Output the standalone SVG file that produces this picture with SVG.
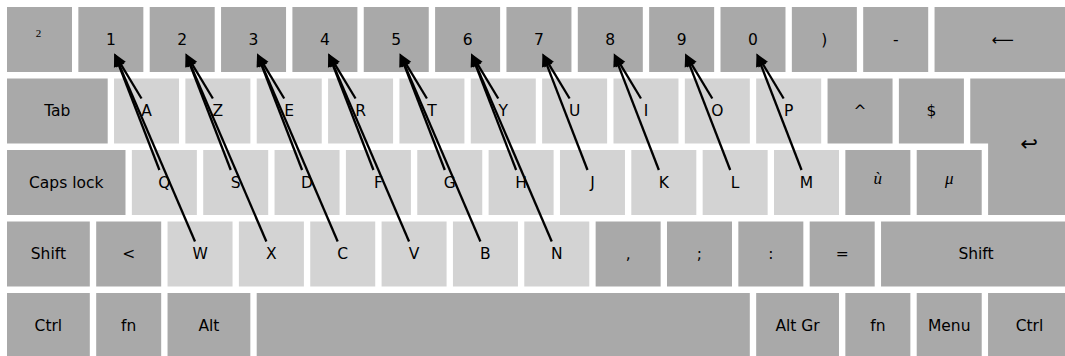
<svg xmlns="http://www.w3.org/2000/svg" width="1065" height="356" viewBox="0 0 1065 356">
<style>
.d{fill:#a9a9a9}
.l{fill:#d3d3d3}
text{font-family:"DejaVu Sans",sans-serif;font-size:15.5px;fill:#000;text-anchor:middle}
.m{font-family:"Liberation Serif","DejaVu Serif",serif;font-style:italic;font-size:17px}
.a{stroke:#000;stroke-width:2.3;fill:none;marker-end:url(#ah)}
</style>
<defs>
<marker id="ah" markerUnits="userSpaceOnUse" markerWidth="13" markerHeight="11" refX="5" refY="5.5" orient="auto" overflow="visible">
<path d="M0,0 L13,5.5 L0,11 z" fill="#000"/>
</marker>
</defs>
<rect width="1065" height="356" fill="#fff"/>
<g id="row0">
<g id="k-sup2"><rect class="d" x="7" y="7" width="65" height="65"/><text x="38.5" y="37" style="font-family:'Liberation Serif',serif;font-size:11px">2</text></g>
<g id="k-1"><rect class="d" x="78.35" y="7" width="65" height="65"/><text x="110.85" y="44.5">1</text></g>
<g id="k-2"><rect class="d" x="149.7" y="7" width="65" height="65"/><text x="182.2" y="44.5">2</text></g>
<g id="k-3"><rect class="d" x="221.05" y="7" width="65" height="65"/><text x="253.55" y="44.5">3</text></g>
<g id="k-4"><rect class="d" x="292.4" y="7" width="65" height="65"/><text x="324.9" y="44.5">4</text></g>
<g id="k-5"><rect class="d" x="363.75" y="7" width="65" height="65"/><text x="396.25" y="44.5">5</text></g>
<g id="k-6"><rect class="d" x="435.1" y="7" width="65" height="65"/><text x="467.6" y="44.5">6</text></g>
<g id="k-7"><rect class="d" x="506.45" y="7" width="65" height="65"/><text x="538.95" y="44.5">7</text></g>
<g id="k-8"><rect class="d" x="577.8" y="7" width="65" height="65"/><text x="610.3" y="44.5">8</text></g>
<g id="k-9"><rect class="d" x="649.15" y="7" width="65" height="65"/><text x="681.65" y="44.5">9</text></g>
<g id="k-0"><rect class="d" x="720.5" y="7" width="65" height="65"/><text x="753" y="44.5">0</text></g>
<g id="k-paren"><rect class="d" x="791.85" y="7" width="65" height="65"/><text x="824.35" y="44.5">)</text></g>
<g id="k-minus"><rect class="d" x="863.2" y="7" width="65" height="65"/><text x="895.7" y="44.5">-</text></g>
<g id="k-back"><rect class="d" x="934.55" y="7" width="136.35" height="65"/><text x="1002.7" y="44.5">⟵</text></g>
</g>
<g id="row1">
<g id="k-tab"><rect class="d" x="7" y="78.5" width="100.7" height="65"/><text x="57.35" y="116">Tab</text></g>
<g id="k-A"><rect class="l" x="114.03" y="78.5" width="65" height="65"/><text x="146.53" y="116">A</text></g>
<g id="k-Z"><rect class="l" x="185.38" y="78.5" width="65" height="65"/><text x="217.88" y="116">Z</text></g>
<g id="k-E"><rect class="l" x="256.73" y="78.5" width="65" height="65"/><text x="289.23" y="116">E</text></g>
<g id="k-R"><rect class="l" x="328.08" y="78.5" width="65" height="65"/><text x="360.58" y="116">R</text></g>
<g id="k-T"><rect class="l" x="399.43" y="78.5" width="65" height="65"/><text x="431.93" y="116">T</text></g>
<g id="k-Y"><rect class="l" x="470.78" y="78.5" width="65" height="65"/><text x="503.28" y="116">Y</text></g>
<g id="k-U"><rect class="l" x="542.13" y="78.5" width="65" height="65"/><text x="574.63" y="116">U</text></g>
<g id="k-I"><rect class="l" x="613.48" y="78.5" width="65" height="65"/><text x="645.98" y="116">I</text></g>
<g id="k-O"><rect class="l" x="684.83" y="78.5" width="65" height="65"/><text x="717.33" y="116">O</text></g>
<g id="k-P"><rect class="l" x="756.18" y="78.5" width="65" height="65"/><text x="788.68" y="116">P</text></g>
<g id="k-caret"><rect class="d" x="827.55" y="78.5" width="65" height="65"/><text x="860.05" y="116">^</text></g>
<g id="k-dollar"><rect class="d" x="898.9" y="78.5" width="65" height="65"/><text x="931.4" y="116">$</text></g>
<g id="k-enter"><polygon class="d" points="970.25,78.5 1071,78.5 1071,215 988.1,215 988.1,143.5 970.25,143.5"/><text x="1029" y="151" style="font-size:21px">↩</text></g>
</g>
<g id="row2">
<g id="k-caps"><rect class="d" x="7" y="150" width="118.5" height="65"/><text x="66.25" y="187.5">Caps lock</text></g>
<g id="k-Q"><rect class="l" x="131.86" y="150" width="65" height="65"/><text x="164.36" y="187.5">Q</text></g>
<g id="k-S"><rect class="l" x="203.21" y="150" width="65" height="65"/><text x="235.71" y="187.5">S</text></g>
<g id="k-D"><rect class="l" x="274.56" y="150" width="65" height="65"/><text x="307.06" y="187.5">D</text></g>
<g id="k-F"><rect class="l" x="345.91" y="150" width="65" height="65"/><text x="378.41" y="187.5">F</text></g>
<g id="k-G"><rect class="l" x="417.26" y="150" width="65" height="65"/><text x="449.76" y="187.5">G</text></g>
<g id="k-H"><rect class="l" x="488.61" y="150" width="65" height="65"/><text x="521.11" y="187.5">H</text></g>
<g id="k-J"><rect class="l" x="559.96" y="150" width="65" height="65"/><text x="592.46" y="187.5">J</text></g>
<g id="k-K"><rect class="l" x="631.31" y="150" width="65" height="65"/><text x="663.81" y="187.5">K</text></g>
<g id="k-L"><rect class="l" x="702.66" y="150" width="65" height="65"/><text x="735.16" y="187.5">L</text></g>
<g id="k-M"><rect class="l" x="774.01" y="150" width="65" height="65"/><text x="806.51" y="187.5">M</text></g>
<g id="k-ugrave"><rect class="d" x="845.36" y="150" width="65" height="65"/><text class="m" x="877.86" y="184">ù</text></g>
<g id="k-mu"><rect class="d" x="916.71" y="150" width="65" height="65"/><text class="m" x="949.21" y="184">μ</text></g>
</g>
<g id="row3">
<g id="k-lshift"><rect class="d" x="7" y="221.5" width="82.8" height="65"/><text x="48.4" y="259">Shift</text></g>
<g id="k-lt"><rect class="d" x="96.19" y="221.5" width="65" height="65"/><text x="128.69" y="259">&lt;</text></g>
<g id="k-W"><rect class="l" x="167.54" y="221.5" width="65" height="65"/><text x="200.04" y="259">W</text></g>
<g id="k-X"><rect class="l" x="238.89" y="221.5" width="65" height="65"/><text x="271.39" y="259">X</text></g>
<g id="k-C"><rect class="l" x="310.24" y="221.5" width="65" height="65"/><text x="342.74" y="259">C</text></g>
<g id="k-V"><rect class="l" x="381.59" y="221.5" width="65" height="65"/><text x="414.09" y="259">V</text></g>
<g id="k-B"><rect class="l" x="452.94" y="221.5" width="65" height="65"/><text x="485.44" y="259">B</text></g>
<g id="k-N"><rect class="l" x="524.29" y="221.5" width="65" height="65"/><text x="556.79" y="259">N</text></g>
<g id="k-comma"><rect class="d" x="595.64" y="221.5" width="65" height="65"/><text x="628.14" y="259">,</text></g>
<g id="k-semi"><rect class="d" x="666.99" y="221.5" width="65" height="65"/><text x="699.49" y="259">;</text></g>
<g id="k-colon"><rect class="d" x="738.34" y="221.5" width="65" height="65"/><text x="770.84" y="259">:</text></g>
<g id="k-equal"><rect class="d" x="809.69" y="221.5" width="65" height="65"/><text x="842.19" y="259">=</text></g>
<g id="k-rshift"><rect class="d" x="881.04" y="221.5" width="189.9" height="65"/><text x="976" y="259">Shift</text></g>
</g>
<g id="row4">
<g id="k-lctrl"><rect class="d" x="7" y="293" width="82.8" height="65"/><text x="48.4" y="330.5">Ctrl</text></g>
<g id="k-lfn"><rect class="d" x="96.19" y="293" width="65" height="65"/><text x="128.69" y="330.5">fn</text></g>
<g id="k-alt"><rect class="d" x="167.54" y="293" width="82.8" height="65"/><text x="208.94" y="330.5">Alt</text></g>
<g id="k-space"><rect class="d" x="256.7" y="293" width="493.1" height="65"/></g>
<g id="k-altgr"><rect class="d" x="756.18" y="293" width="82.8" height="65"/><text x="797.58" y="330.5">Alt Gr</text></g>
<g id="k-rfn"><rect class="d" x="845.36" y="293" width="65" height="65"/><text x="877.86" y="330.5">fn</text></g>
<g id="k-menu"><rect class="d" x="916.71" y="293" width="65" height="65"/><text x="949.21" y="330.5">Menu</text></g>
<g id="k-rctrl"><rect class="d" x="988.06" y="293" width="82.8" height="65"/><text x="1029.46" y="330.5">Ctrl</text></g>
</g>
<g id="connectors">
<line class="a" x1="141.5" y1="98.5" x2="118.48" y2="60.35"/>
<line class="a" x1="212.85" y1="98.5" x2="189.83" y2="60.35"/>
<line class="a" x1="284.2" y1="98.5" x2="261.18" y2="60.35"/>
<line class="a" x1="355.55" y1="98.5" x2="332.53" y2="60.35"/>
<line class="a" x1="426.9" y1="98.5" x2="403.88" y2="60.35"/>
<line class="a" x1="498.25" y1="98.5" x2="475.23" y2="60.35"/>
<line class="a" x1="569.6" y1="98.5" x2="546.58" y2="60.35"/>
<line class="a" x1="640.95" y1="98.5" x2="617.93" y2="60.35"/>
<line class="a" x1="712.3" y1="98.5" x2="689.28" y2="60.35"/>
<line class="a" x1="783.65" y1="98.5" x2="760.63" y2="60.35"/>
<line class="a" x1="159.4" y1="170" x2="117.24" y2="60.96"/>
<line class="a" x1="230.75" y1="170" x2="188.59" y2="60.96"/>
<line class="a" x1="302.1" y1="170" x2="259.94" y2="60.96"/>
<line class="a" x1="373.45" y1="170" x2="331.29" y2="60.96"/>
<line class="a" x1="444.8" y1="170" x2="402.64" y2="60.96"/>
<line class="a" x1="516.15" y1="170" x2="473.99" y2="60.96"/>
<line class="a" x1="587.5" y1="170" x2="545.34" y2="60.96"/>
<line class="a" x1="658.85" y1="170" x2="616.69" y2="60.96"/>
<line class="a" x1="730.2" y1="170" x2="688.04" y2="60.96"/>
<line class="a" x1="801.55" y1="170" x2="759.39" y2="60.96"/>
<line class="a" x1="195" y1="241.5" x2="117.5" y2="60.85"/>
<line class="a" x1="266.35" y1="241.5" x2="188.85" y2="60.85"/>
<line class="a" x1="337.7" y1="241.5" x2="260.2" y2="60.85"/>
<line class="a" x1="409.05" y1="241.5" x2="331.55" y2="60.85"/>
<line class="a" x1="480.4" y1="241.5" x2="402.9" y2="60.85"/>
<line class="a" x1="551.75" y1="241.5" x2="474.25" y2="60.85"/>
</g>
</svg>
